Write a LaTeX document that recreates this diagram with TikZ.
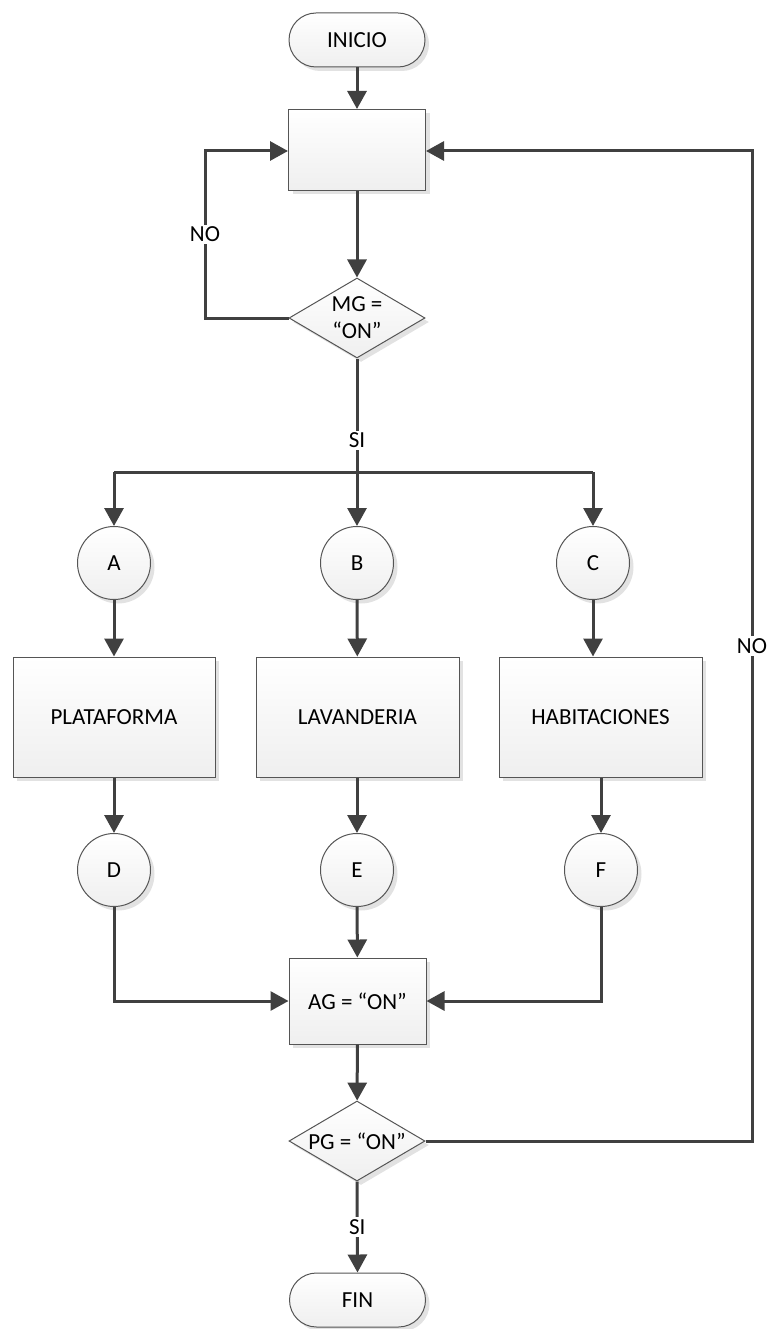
\documentclass[tikz,border=0pt]{standalone}
\usepackage{fontspec}
\setmainfont{Carlito}
\usetikzlibrary{arrows.meta,shapes.geometric,shadows,calc}
\definecolor{lnc}{HTML}{404040}
\definecolor{bdc}{HTML}{555555}
\definecolor{shc}{HTML}{E2E2E2}
\definecolor{btm}{HTML}{EFEFEF}
\tikzset{
  x=1pt, y=-1pt,
  base/.style={draw=bdc, line width=1pt, top color=white, bottom color=btm,
    drop shadow={shadow xshift=4pt, shadow yshift=-4pt, fill=shc, opacity=1},
    font=\fontsize{23}{27}\selectfont, align=center, inner sep=0pt},
  term/.style={base, rectangle, rounded corners=27pt, minimum width=136pt, minimum height=54pt},
  proc/.style={base, rectangle, minimum width=203pt, minimum height=120pt},
  smallproc/.style={base, rectangle, minimum width=137pt, minimum height=82pt},
  decis/.style={base, diamond, shape aspect=1.7, minimum width=136pt, minimum height=80pt},
  conn/.style={base, circle, minimum size=73pt},
  flow/.style={draw=lnc, line width=3pt},
  arr/.style={flow, -{Triangle[length=18pt,width=19pt]}},
  lbl/.style={fill=white, inner sep=2pt, font=\fontsize{23}{27}\selectfont},
}
\begin{document}
\begin{tikzpicture}
\useasboundingbox (0,0) rectangle (770,1329);
\node[term] (start) at (357,40) {INICIO};
\node[smallproc, minimum height=81pt] (p0) at (357,150) {};
\node[decis] (mg) at (357,318) {MG =\\“ON”};
\node[conn] (A) at (114,563) {A};
\node[conn] (B) at (357,563) {B};
\node[conn] (C) at (593,563) {C};
\node[proc, minimum width=202pt] (plat) at (114,717) {PLATAFORMA};
\node[proc] (lav) at (357.5,717) {LAVANDERIA};
\node[proc] (hab) at (600.5,717) {HABITACIONES};
\node[conn] (D) at (114,870) {D};
\node[conn] (E) at (357,870) {E};
\node[conn] (F) at (601,870) {F};
\node[smallproc, minimum height=86pt] (ag) at (357.5,1001) {AG = “ON”};
\node[decis] (pg) at (357,1141) {PG = “ON”};
\node[term] (fin) at (357.5,1300) {FIN};

\coordinate (nl1) at (205,318);
\coordinate (nl2) at (205,151);
\coordinate (split) at (357,472);
\coordinate (splA) at (114,472);
\coordinate (splC) at (593,472);
\coordinate (nr1) at (752,1141);
\coordinate (nr2) at (752,151);

\draw[arr] (start) -- (p0);
\draw[arr] (p0) -- (mg);
\draw[arr] (mg.west) -- (nl1) -- node[lbl]{NO} (nl2) -- (p0.west |- nl2);
\draw[flow] (mg.south) -- node[lbl, pos=0.72]{SI} (split);
\draw[flow] (splA) -- (splC);
\draw[arr] (splA) -- (A);
\draw[arr] (split) -- (B);
\draw[arr] (splC) -- (C);
\draw[arr] (A) -- (plat);
\draw[arr] (B) -- (lav);
\draw[arr] (C.south) -- (C.south |- hab.north);
\draw[arr] (plat) -- (D);
\draw[arr] (E.north |- lav.south) -- (E.north);
\draw[arr] (F.north |- hab.south) -- (F.north);
\draw[arr] (D.south) |- (ag.west);
\draw[arr] (F.south) |- (ag.east);
\draw[arr] (E) -- (ag);
\draw[arr] (ag) -- (pg);
\draw[arr] (pg.east) -- (nr1) -- node[lbl, pos=0.5]{NO} (nr2) -- (p0.east |- nr2);
\draw[arr] (pg.south) -- node[lbl]{SI} (fin.north);
\end{tikzpicture}
\end{document}
